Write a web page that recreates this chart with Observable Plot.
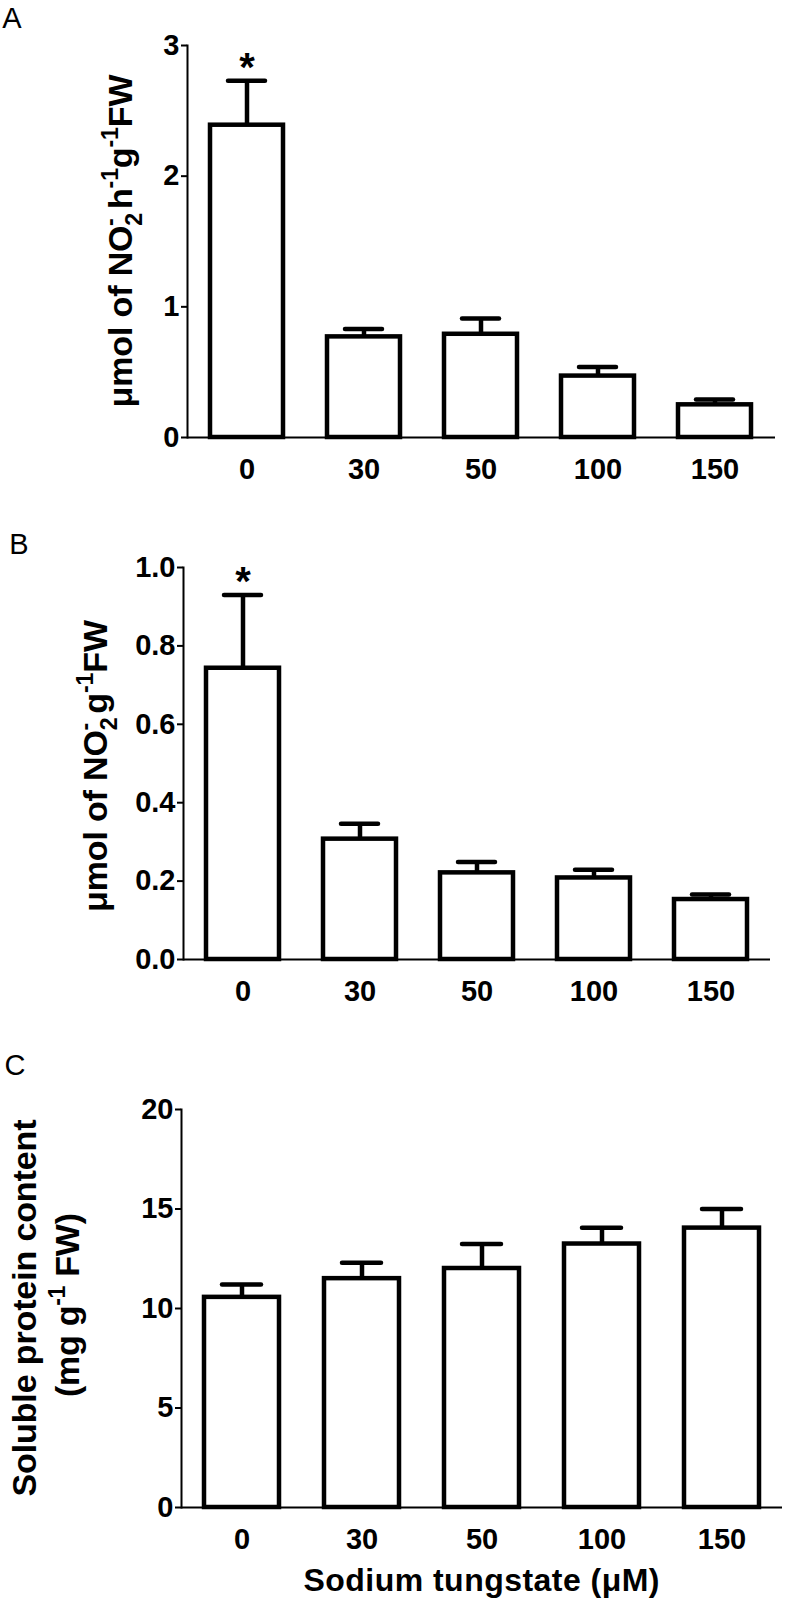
<!DOCTYPE html>
<html><head><meta charset="utf-8">
<script src="https://cdn.jsdelivr.net/npm/d3@7"></script>
<script src="https://cdn.jsdelivr.net/npm/@observablehq/plot@0.6"></script>
<style>
body{margin:0;background:#fff;}
#chart{width:786px;}
#chart svg{display:block;}
</style></head><body><div id="chart"></div>
<script>
// ---- data ----
const doses = ["0", "30", "50", "100", "150"];
// Panel A: nitrate reductase activity (µmol NO2- h-1 g-1 FW)
const nrMean = [2.39, 0.77, 0.79, 0.47, 0.25];
const nrSE   = [0.34, 0.06, 0.12, 0.07, 0.04];
const nrStar = [true, false, false, false, false];
const nrTicks = [0, 1, 2, 3];
// Panel B: nitrite content (µmol NO2- g-1 FW)
const niMean = [0.743, 0.307, 0.221, 0.208, 0.153];
const niSE   = [0.187, 0.039, 0.028, 0.021, 0.013];
const niStar = [true, false, false, false, false];
const niTicks = [0, 0.2, 0.4, 0.6, 0.8, 1.0];
// Panel C: soluble protein content (mg g-1 FW)
const prMean = [10.56, 11.50, 12.01, 13.24, 14.04];
const prSE   = [0.65, 0.80, 1.23, 0.82, 0.96];
const prStar = [false, false, false, false, false];
const prTicks = [0, 5, 10, 15, 20];

const FONT = "'Liberation Sans', Arial, Helvetica, sans-serif";

function panel(cfg) {
  const data = doses.map((d, i) => ({dose: d, mean: cfg.mean[i], top: cfg.mean[i] + cfg.se[i], star: cfg.star[i]}));
  return Plot.plot({
    width: 786, height: cfg.height,
    marginTop: cfg.mt, marginBottom: cfg.mb, marginLeft: cfg.ml, marginRight: cfg.mr,
    style: {fontFamily: FONT, fontSize: "29px", fontWeight: "bold", color: "black", background: "white", overflow: "visible"},
    x: {type: "band", domain: doses, paddingInner: 0.375, paddingOuter: 0.1875, label: null},
    y: {domain: cfg.domain, label: null},
    marks: [
      Plot.ruleX(data, {x: "dose", y1: "mean", y2: "top", stroke: "black", strokeWidth: 4.5}),
      Plot.tickY(data, {x: "dose", y: "top", stroke: "black", strokeWidth: 4.5, strokeLinecap: "round", insetLeft: 18, insetRight: 18}),
      Plot.barY(data, {x: "dose", y: "mean", fill: "white", stroke: "black", strokeWidth: 4.5}),
      Plot.text(data.filter(d => d.star), {x: "dose", y: "top", text: () => "*", dy: -13, fontSize: 40, fontWeight: "bold"}),
      Plot.ruleY([0], {stroke: "black", strokeWidth: 2}),
      Plot.frame({anchor: "left", stroke: "black", strokeWidth: 2}),
      Plot.axisY({ticks: cfg.ticks, tickFormat: cfg.fmt, tickSize: 6, tickPadding: 2, strokeWidth: 2, label: null}),
      Plot.axisX({tickSize: 0, tickPadding: 21, label: null})
    ]
  });
}

// rich text helper: segments [text, kind, dx] kind: "n" normal, "sub", "sup"
function richText(sel, segs, size) {
  let shift = 0;
  segs.forEach(([t, kind, dx]) => {
    const ts = sel.append("tspan").text(t);
    let target = 0, fs = size;
    if (kind === "sub") { target = size * 0.28; fs = size * 0.68; }
    if (kind === "sup") { target = -size * 0.42; fs = size * 0.68; }
    ts.attr("font-size", fs).attr("dy", target - shift);
    if (dx) ts.attr("dx", dx);
    shift = target;
  });
}

function yLabel(svg, segs, x, y, size, len) {
  const t = d3.select(svg).append("text")
    .attr("transform", `translate(${x},${y}) rotate(-90)`)
    .attr("text-anchor", "middle")
    .attr("font-family", FONT).attr("font-weight", "bold").attr("font-size", size).attr("fill", "black");
  if (len) t.attr("textLength", len).attr("lengthAdjust", "spacing");
  richText(t, segs, size);
}

function letter(svg, s, x, y) {
  d3.select(svg).append("text").attr("x", x).attr("y", y)
    .attr("font-family", FONT).attr("font-weight", "normal").attr("font-size", 29).attr("fill", "black").text(s);
}

const root = document.getElementById("chart");

// Panel A
const A = panel({mean: nrMean, se: nrSE, star: nrStar, ticks: nrTicks, fmt: d3.format("d"), domain: [0, 3],
  height: 510, mt: 45, mb: 73, ml: 187, mr: 11});
letter(A, "A", 12, 28);
yLabel(A, [["μmol of NO", "n"], ["2", "sub"], ["-", "sup", -13], [" h", "n"], ["-1", "sup"], ["g", "n"], ["-1", "sup"], ["FW", "n"]], 132, 241, 34, 333);
root.appendChild(A);

// Panel B
const B = panel({mean: niMean, se: niSE, star: niStar, ticks: niTicks, fmt: d3.format(".1f"), domain: [0, 1],
  height: 540, mt: 57, mb: 91, ml: 183, mr: 16});
letter(B, "B", 19, 44);
yLabel(B, [["μmol of NO", "n"], ["2", "sub"], ["-", "sup", -13], [" g", "n"], ["-1", "sup"], ["FW", "n"]], 107, 256, 34, 292);
root.appendChild(B);

// Panel C
const C = panel({mean: prMean, se: prSE, star: prStar, ticks: prTicks, fmt: d3.format("d"), domain: [0, 20],
  height: 550, mt: 59, mb: 93, ml: 181, mr: 4});
letter(C, "C", 15, 25);
yLabel(C, [["Soluble protein content", "n"]], 36, 258, 34, 377);
yLabel(C, [["(mg g", "n"], ["-1", "sup"], [" FW)", "n"]], 79, 255, 34, 184);
d3.select(C).append("text").attr("x", (181 + 782) / 2).attr("y", 541)
  .attr("text-anchor", "middle").attr("font-family", FONT).attr("font-weight", "bold")
  .attr("font-size", 32).attr("textLength", 356).attr("lengthAdjust", "spacing")
  .attr("fill", "black").text("Sodium tungstate (μM)");
root.appendChild(C);
</script></body></html>
